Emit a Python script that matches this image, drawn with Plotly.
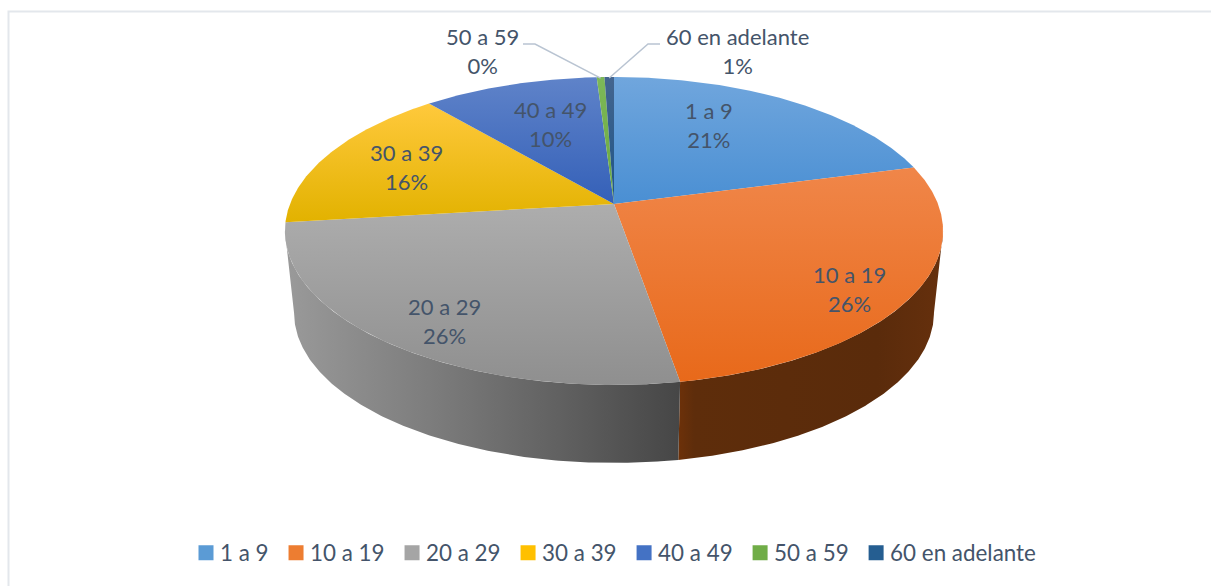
import numpy as np
import plotly.graph_objects as go

categories = ["1 a 9", "10 a 19", "20 a 29", "30 a 39", "40 a 49", "50 a 59", "60 en adelante"]
values = [20.9, 26.4, 25.8, 15.7, 10.2, 0.45, 0.55]
top_colors = [("#70a6dd", "#4a8fd3"), ("#f08649", "#e8691a"), ("#adadad", "#8f8f8f"),
              ("#ffc93c", "#e2b200"), ("#5f83c9", "#3460b8"), ("#7db858", "#6aa83f"), ("#44658f", "#1d5487")]
swatch_colors = ["#5b9bd5", "#ed7d31", "#a5a5a5", "#ffc000", "#4472c4", "#70ad47", "#255e91"]
side_scales = {1: [[0, "#6d3109"], [0.06, "#5e2d0b"], [0.75, "#5a2b0b"], [1, "#66300d"]],
               2: [[0, "#9a9a9a"], [0.4, "#7a7a7a"], [0.75, "#5c5c5c"], [1, "#464646"]]}
label_pos = [(709, 125), (849, 289), (444, 321), (406, 167), (550, 124), (482, 51), (737, 51)]

CX, K = 614, 0.175
TOP = dict(a=324, b=149.3, cy=204)
BOT = dict(a=315, b=145.4, cy=286.7)
FONT = "Lato, Carlito, sans-serif"
TEXT = "#44546a"
PAD = "\u00a0" * 2


def project(t, face, r=1.0):
    X, Y = r * np.sin(t), r * np.cos(t)
    w = 1 + K * Y
    return CX + face["a"] * X / w, face["cy"] - face["b"] * Y / w


edges = np.concatenate([[0], np.cumsum(values)]) / sum(values) * 2 * np.pi
# Arc angles at which the disc outline is widest: the walls start and stop there
t_wide = np.arccos(-K)
fig = go.Figure()

# Sides of the disc (only the two front slices are visible)
for i, scale in side_scales.items():
    t0 = max(edges[i], t_wide)
    t1 = min(edges[i + 1], 2 * np.pi - t_wide)
    t = np.linspace(t0, t1, 200)
    x1, y1 = project(t, TOP)
    x2, y2 = project(t[::-1], BOT)
    fig.add_trace(go.Scatter(x=np.r_[x1, x2], y=np.r_[y1, y2], mode="lines", line=dict(width=0),
                             fill="toself", fillcolor=scale[1][1],
                             fillgradient=dict(type="horizontal", colorscale=scale),
                             showlegend=False, hoverinfo="skip"))

# Top faces
for i, name in enumerate(categories):
    t = np.linspace(edges[i], edges[i + 1], max(8, int((edges[i + 1] - edges[i]) * 120)))
    x, y = project(t, TOP)
    fig.add_trace(go.Scatter(x=np.r_[CX, x, CX], y=np.r_[TOP["cy"], y, TOP["cy"]], mode="lines",
                             line=dict(width=0), fill="toself", fillcolor=swatch_colors[i],
                             fillgradient=dict(type="vertical",
                                               colorscale=[[0, top_colors[i][1]], [1, top_colors[i][0]]]),
                             name=name, showlegend=False, hovertemplate=name + "<extra></extra>"))

# Legend entries
for i, name in enumerate(categories):
    fig.add_trace(go.Scatter(x=[None], y=[None], mode="markers", name=name + PAD,
                             marker=dict(symbol="square", size=15, color=swatch_colors[i])))

# Data labels
for i, name in enumerate(categories):
    fig.add_annotation(x=label_pos[i][0], y=label_pos[i][1], xref="x", yref="y", showarrow=False,
                       text=f"{name}<br>{round(values[i] / sum(values) * 100)}%",
                       font=dict(family=FONT, size=22, color=TEXT), align="center")

# Leader lines for the two thin slices
for i, start, knee in [(5, (523, 44), (535, 44)), (6, (660, 44), (648, 44))]:
    ex, ey = project((edges[i] + edges[i + 1]) / 2, TOP)
    fig.add_shape(type="path", path=f"M{start[0]},{start[1]} L{knee[0]},{knee[1]} L{ex:.1f},{ey + 1:.1f}",
                  line=dict(color="#b9c4d2", width=1.5), xref="x", yref="y")

# Chart frame
fig.add_shape(type="rect", x0=8.5, y0=11.5, x1=1225, y1=600, xref="x", yref="y",
              line=dict(color="#e3e7ec", width=2))

fig.update_layout(
    width=1211, height=586, margin=dict(l=0, r=0, t=0, b=0),
    paper_bgcolor="white", plot_bgcolor="white",
    xaxis=dict(range=[0, 1211], visible=False, fixedrange=True),
    yaxis=dict(range=[586, 0], visible=False, fixedrange=True),
    legend=dict(orientation="h", x=195 / 1211, xanchor="left", y=0.056, yanchor="middle",
                font=dict(family=FONT, size=22.4, color=TEXT), indentation=-15, itemclick=False,
                itemdoubleclick=False),
)
fig.write_html("out.html", config=dict(displayModeBar=False),
               post_script="document.body.style.margin='0';"
                           "document.querySelectorAll('.legendpoints').forEach("
                           "g=>g.setAttribute('transform','translate(6,0)'));")
